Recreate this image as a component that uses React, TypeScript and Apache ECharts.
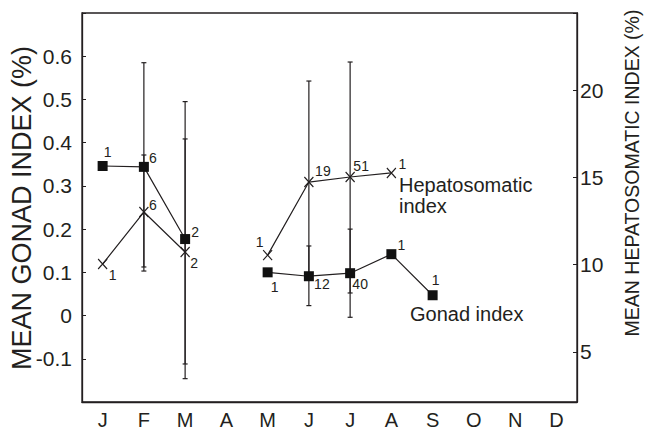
import React, { useEffect, useRef } from "react";
import * as echarts from "echarts";

const months = ["J", "F", "M", "A", "M", "J", "J", "A", "S", "O", "N", "D"];

// Gonad index (%), left axis
const gonad = [0.346, 0.344, 0.177, null, 0.1, 0.091, 0.098, 0.142, 0.047, null, null, null];
const gonadLow = [null, 0.103, -0.146, null, null, 0.023, -0.004, null, null, null, null, null];
const gonadHigh = [null, 0.585, 0.495, null, null, 0.161, 0.2, null, null, null, null, null];
const gonadN = ["1", "6", "2", "", "1", "12", "40", "1", "1", "", "", ""];

// Hepatosomatic index (%), right axis
const hsi = [10.03, 13.01, 10.72, null, 10.54, 14.73, 15.02, 15.25, null, null, null, null];
const hsiLow = [null, 9.86, 4.3, null, null, 9.11, 8.37, null, null, null, null, null];
const hsiHigh = [null, 16.28, 17.2, null, null, 20.52, 21.61, null, null, null, null, null];
const hsiN = ["1", "6", "2", "", "1", "19", "51", "1", "", "", "", ""];

const leftTicks = ["-0.1", "0", "0.1", "0.2", "0.3", "0.4", "0.5", "0.6"];
const rightTicks = ["5", "10", "15", "20"];

// label offsets (style, not data)
const gonadLabelOffset: number[][] = [[5, -14], [9, -9], [10, -7], [0, 0], [7, 15], [13, 8], [10, 11], [10, -9], [3, -15]];
const hsiLabelOffset: number[][] = [[10, 11], [9, -7], [9, 11], [0, 0], [-8, -13], [14, -11], [11, -11], [11, -9]];

const FONT = "'Liberation Sans', Arial, Helvetica, sans-serif";
const INK = "#231f20";

function errorSeries(low: (number | null)[], high: (number | null)[], yAxisIndex: number) {
  const data: any[] = [];
  low.forEach((l, i) => {
    if (l !== null && high[i] !== null) data.push([i, l, high[i]]);
  });
  return {
    type: "custom",
    yAxisIndex,
    z: 1,
    silent: true,
    data,
    renderItem: (params: any, api: any) => {
      const p1 = api.coord([api.value(0), api.value(1)]);
      const p2 = api.coord([api.value(0), api.value(2)]);
      const w = 2.5;
      const st = { stroke: INK, lineWidth: 1.2 };
      return {
        type: "group",
        children: [
          { type: "line", shape: { x1: p1[0], y1: p1[1], x2: p2[0], y2: p2[1] }, style: st },
          { type: "line", shape: { x1: p1[0] - w, y1: p1[1], x2: p1[0] + w, y2: p1[1] }, style: st },
          { type: "line", shape: { x1: p2[0] - w, y1: p2[1], x2: p2[0] + w, y2: p2[1] }, style: st },
        ],
      };
    },
  };
}

function labelled(values: (number | null)[], ns: string[], offsets: number[][]) {
  return values.map((v, i) => ({
    value: v,
    label: {
      show: !!ns[i],
      formatter: ns[i],
      position: "inside",
      offset: offsets[i] || [0, 0],
      fontSize: 14,
      color: INK,
      textBorderWidth: 0,
      textBorderColor: "transparent",
      fontFamily: FONT,
    },
  }));
}

export default function App() {
  const ref = useRef<HTMLDivElement>(null);
  useEffect(() => {
    if (!ref.current) return;
    const chart = echarts.init(ref.current, null, { renderer: "svg" });
    chart.setOption({
      animation: false,
      backgroundColor: "#fff",
      textStyle: { fontFamily: FONT },
      grid: { left: 82, right: 70, top: 13, bottom: 32, show: true, borderColor: INK, borderWidth: 1.3, backgroundColor: "transparent" },
      xAxis: {
        type: "category",
        data: months,
        boundaryGap: true,
        axisLine: { onZero: false, lineStyle: { color: INK, width: 1.3 } },
        axisTick: { inside: true, length: 4, lineStyle: { color: INK } },
        axisLabel: { fontSize: 20, color: INK, margin: 8, fontFamily: FONT },
        splitLine: { show: false },
      },
      yAxis: [
        {
          type: "value",
          min: -0.2,
          max: 0.7,
          interval: 0.1,
          axisLine: { show: true, onZero: false, lineStyle: { color: INK, width: 1.3 } },
          axisTick: { show: true, inside: true, length: 4, lineStyle: { color: INK } },
          axisLabel: {
            fontSize: 21,
            color: INK,
            margin: 10,
            fontFamily: FONT,
            formatter: (v: number) => {
              const s = String(Math.round(v * 10) / 10);
              return leftTicks.includes(s) ? s : "";
            },
          },
          splitLine: { show: false },
        },
        {
          type: "value",
          min: 2.12,
          max: 24.42,
          splitNumber: 5,
          position: "right",
          axisLine: { show: true, onZero: false, lineStyle: { color: INK, width: 1.3 } },
          axisTick: { show: true, inside: true, length: 4, lineStyle: { color: INK } },
          axisLabel: {
            fontSize: 21,
            color: INK,
            margin: 3,
            fontFamily: FONT,
            formatter: (v: number) => {
              const s = String(Math.round(v * 100) / 100);
              return rightTicks.includes(s) ? s : "";
            },
          },
          splitLine: { show: false },
        },
      ],
      series: [
        errorSeries(gonadLow, gonadHigh, 0),
        errorSeries(hsiLow, hsiHigh, 1),
        {
          type: "line",
          name: "Gonad index",
          yAxisIndex: 0,
          z: 3,
          data: labelled(gonad, gonadN, gonadLabelOffset),
          connectNulls: false,
          symbol: "rect",
          symbolSize: 10,
          lineStyle: { color: INK, width: 1.2 },
          itemStyle: { color: "#111" },
        },
        {
          type: "line",
          name: "Hepatosomatic index",
          yAxisIndex: 1,
          z: 3,
          data: labelled(hsi, hsiN, hsiLabelOffset),
          connectNulls: false,
          symbol: "path://M0,0L10,11M10,0L0,11",
          symbolSize: [9, 10],
          lineStyle: { color: INK, width: 1.2 },
          itemStyle: { color: "none", borderColor: INK, borderWidth: 1.2 },
        },
      ],
      graphic: [
        {
          type: "text",
          x: 22,
          y: 208,
          rotation: Math.PI / 2,
          style: { text: "MEAN GONAD INDEX (%)", fontSize: 27, fontFamily: FONT, fill: INK, align: "center", verticalAlign: "middle" },
        },
        {
          type: "text",
          x: 632,
          y: 173,
          rotation: Math.PI / 2,
          style: { text: "MEAN HEPATOSOMATIC INDEX (%)", fontSize: 19.5, fontFamily: FONT, fill: INK, align: "center", verticalAlign: "middle" },
        },
        {
          type: "text",
          x: 399,
          y: 174,
          style: { text: "Hepatosomatic\nindex", fontSize: 20, lineHeight: 21, fontFamily: FONT, fill: INK, align: "left", verticalAlign: "top" },
        },
        {
          type: "text",
          x: 410,
          y: 304,
          style: { text: "Gonad index", fontSize: 20, fontFamily: FONT, fill: INK, align: "left", verticalAlign: "top" },
        },
      ],
    });
    return () => chart.dispose();
  }, []);
  return <div ref={ref} style={{ width: 647, height: 434, position: "absolute", left: 0, top: 0 }} />;
}
